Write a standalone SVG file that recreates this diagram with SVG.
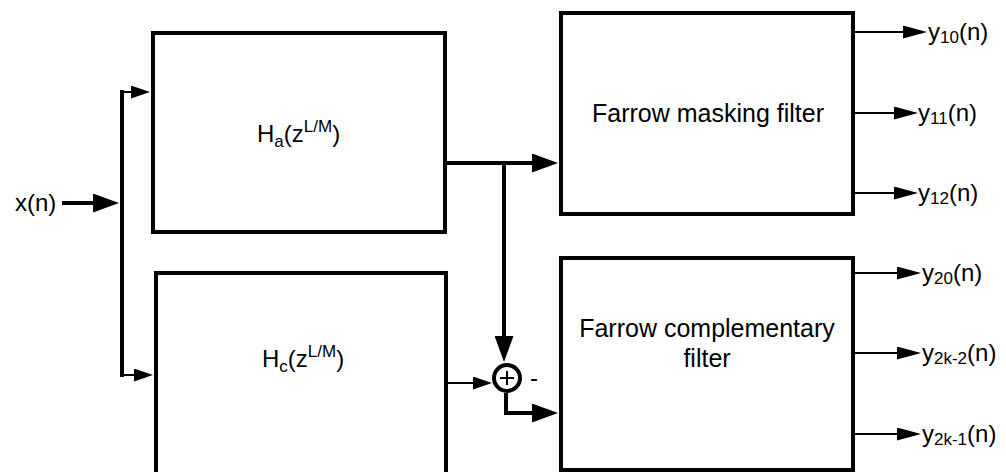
<svg xmlns="http://www.w3.org/2000/svg" width="1006" height="472" viewBox="0 0 1006 472">
<style>
.box{fill:#fff;stroke:#000;stroke-width:4}
.thick{fill:none;stroke:#000;stroke-width:4}
.thin{fill:none;stroke:#000;stroke-width:2}
text{font-family:"Liberation Sans",Arial,sans-serif;fill:#000}
.lbl{font-size:24px}
.big{font-size:25px}
.s{font-size:17px}
</style>
<defs>
<marker id="ab" markerUnits="userSpaceOnUse" viewBox="0 0 26 19" markerWidth="26" markerHeight="19" refX="0" refY="9.5" orient="auto"><path d="M0,0 L26,9.5 L0,19 z" fill="#000"/></marker>
<marker id="as" markerUnits="userSpaceOnUse" viewBox="0 0 19 13" markerWidth="19" markerHeight="13" refX="0" refY="6.5" orient="auto"><path d="M0,0 L19,6.5 L0,13 z" fill="#000"/></marker>
<marker id="ao" markerUnits="userSpaceOnUse" viewBox="0 0 24 13" markerWidth="24" markerHeight="13" refX="0" refY="6.5" orient="auto"><path d="M0,0 L24,6.5 L0,13 z" fill="#000"/></marker>
</defs>
<g id="connectors">
<path class="thick" d="M62,203 H93" marker-end="url(#ab)"/>
<path class="thick" d="M122,90 V377"/>
<path class="thin" d="M121,92 H131" marker-end="url(#as)"/>
<path class="thin" d="M121,375 H134" marker-end="url(#as)"/>
<path class="thick" d="M445,163 H532" marker-end="url(#ab)"/>
<path class="thick" d="M504,163 V336" marker-end="url(#ab)"/>
<path class="thin" d="M446,383 H473" marker-end="url(#as)"/>
<path class="thick" d="M506,393 V413 H532" marker-end="url(#ab)"/>
<path class="thin" d="M855,32 H903" marker-end="url(#ao)"/>
<path class="thin" d="M855,113 H894" marker-end="url(#ao)"/>
<path class="thin" d="M855,193 H894" marker-end="url(#ao)"/>
<path class="thin" d="M855,273 H897" marker-end="url(#ao)"/>
<path class="thin" d="M855,353 H897" marker-end="url(#ao)"/>
<path class="thin" d="M855,434 H897" marker-end="url(#ao)"/>
</g>
<g id="input"><text class="lbl" x="15" y="211">x(n)</text></g>
<g id="Ha">
<rect class="box" x="153" y="33" width="292" height="199"/>
<text class="lbl" x="257" y="142">H<tspan class="s" dy="5">a</tspan><tspan dy="-5">(z</tspan><tspan class="s" dy="-10">L/M</tspan><tspan dy="10">)</tspan></text>
</g>
<g id="Hc">
<rect class="box" x="156" y="273" width="290" height="205"/>
<text class="lbl" x="262" y="367">H<tspan class="s" dy="5">c</tspan><tspan dy="-5">(z</tspan><tspan class="s" dy="-10">L/M</tspan><tspan dy="10">)</tspan></text>
</g>
<g id="sum">
<circle cx="507" cy="378" r="13" fill="#fff" stroke="#000" stroke-width="4"/>
<path d="M500,378 H514 M507,371 V385" stroke="#000" stroke-width="2"/>
<text class="lbl" x="530" y="386">-</text>
</g>
<g id="masking">
<rect class="box" x="561" y="13" width="292" height="201"/>
<text class="big" x="708" y="122" text-anchor="middle">Farrow masking filter</text>
</g>
<g id="complementary">
<rect class="box" x="561" y="258" width="292" height="212"/>
<text class="big" x="707" y="337" text-anchor="middle">Farrow complementary</text>
<text class="big" x="707" y="367" text-anchor="middle">filter</text>
</g>
<g id="outputs">
<text class="lbl" x="928" y="40">y<tspan class="s" dy="3">10</tspan><tspan dy="-3">(n)</tspan></text>
<text class="lbl" x="918" y="121">y<tspan class="s" dy="3">11</tspan><tspan dy="-3">(n)</tspan></text>
<text class="lbl" x="918" y="201">y<tspan class="s" dy="3">12</tspan><tspan dy="-3">(n)</tspan></text>
<text class="lbl" x="922" y="281">y<tspan class="s" dy="3">20</tspan><tspan dy="-3">(n)</tspan></text>
<text class="lbl" x="922" y="361">y<tspan class="s" dy="3">2k-2</tspan><tspan dy="-3">(n)</tspan></text>
<text class="lbl" x="922" y="442">y<tspan class="s" dy="3">2k-1</tspan><tspan dy="-3">(n)</tspan></text>
</g>
</svg>
